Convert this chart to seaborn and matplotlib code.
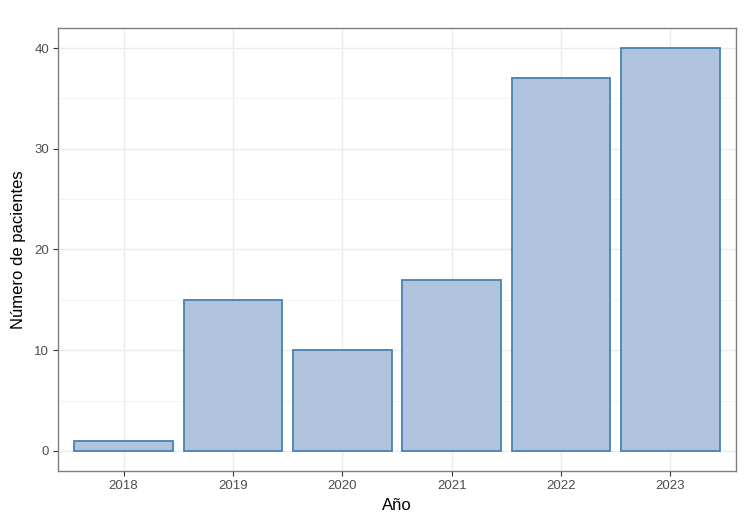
import numpy as np
import pandas as pd
import matplotlib
matplotlib.use("Agg")
import matplotlib.pyplot as plt
import seaborn as sns
from matplotlib.ticker import MultipleLocator

years = ["2018", "2019", "2020", "2021", "2022", "2023"]
patients = [1, 15, 10, 17, 37, 40]

df = pd.DataFrame({"anio": years, "n": patients})

sns.set_style("white")
plt.rcParams["font.family"] = ["Liberation Sans", "DejaVu Sans"]

fig = plt.figure(figsize=(7.5, 5.25), dpi=100)
ax = fig.add_axes([0.0773, 0.1029, 0.9040, 0.8438])

sns.barplot(
    data=df,
    x="anio",
    y="n",
    color="#B0C4DE",
    saturation=1,
    edgecolor="#4682B4",
    linewidth=1.3,
    width=0.9,
    ax=ax,
    zorder=3,
)

ax.set_xlim(-0.6, 5.6)
ax.set_ylim(-2, 42)
ax.yaxis.set_major_locator(MultipleLocator(10))
ax.yaxis.set_minor_locator(MultipleLocator(5))

# ggplot theme_bw look
ax.grid(which="major", axis="both", color="#EBEBEB", linewidth=1.0, zorder=0)
ax.grid(which="minor", axis="y", color="#F2F2F2", linewidth=0.6, zorder=0)
ax.set_axisbelow(True)
for s in ax.spines.values():
    s.set_color("#7F7F7F")
    s.set_linewidth(1.0)

ax.tick_params(axis="both", which="major", length=3.5, width=0.8, color="#333333",
               labelsize=9.5, labelcolor="#4D4D4D", pad=3, bottom=True, left=True)
ax.tick_params(axis="both", which="minor", length=0)

ax.set_xlabel("Año", fontsize=12, color="black", labelpad=4)
ax.set_ylabel("Número de pacientes", fontsize=12, color="black", labelpad=6)

fig.savefig("out.png", dpi=100)
